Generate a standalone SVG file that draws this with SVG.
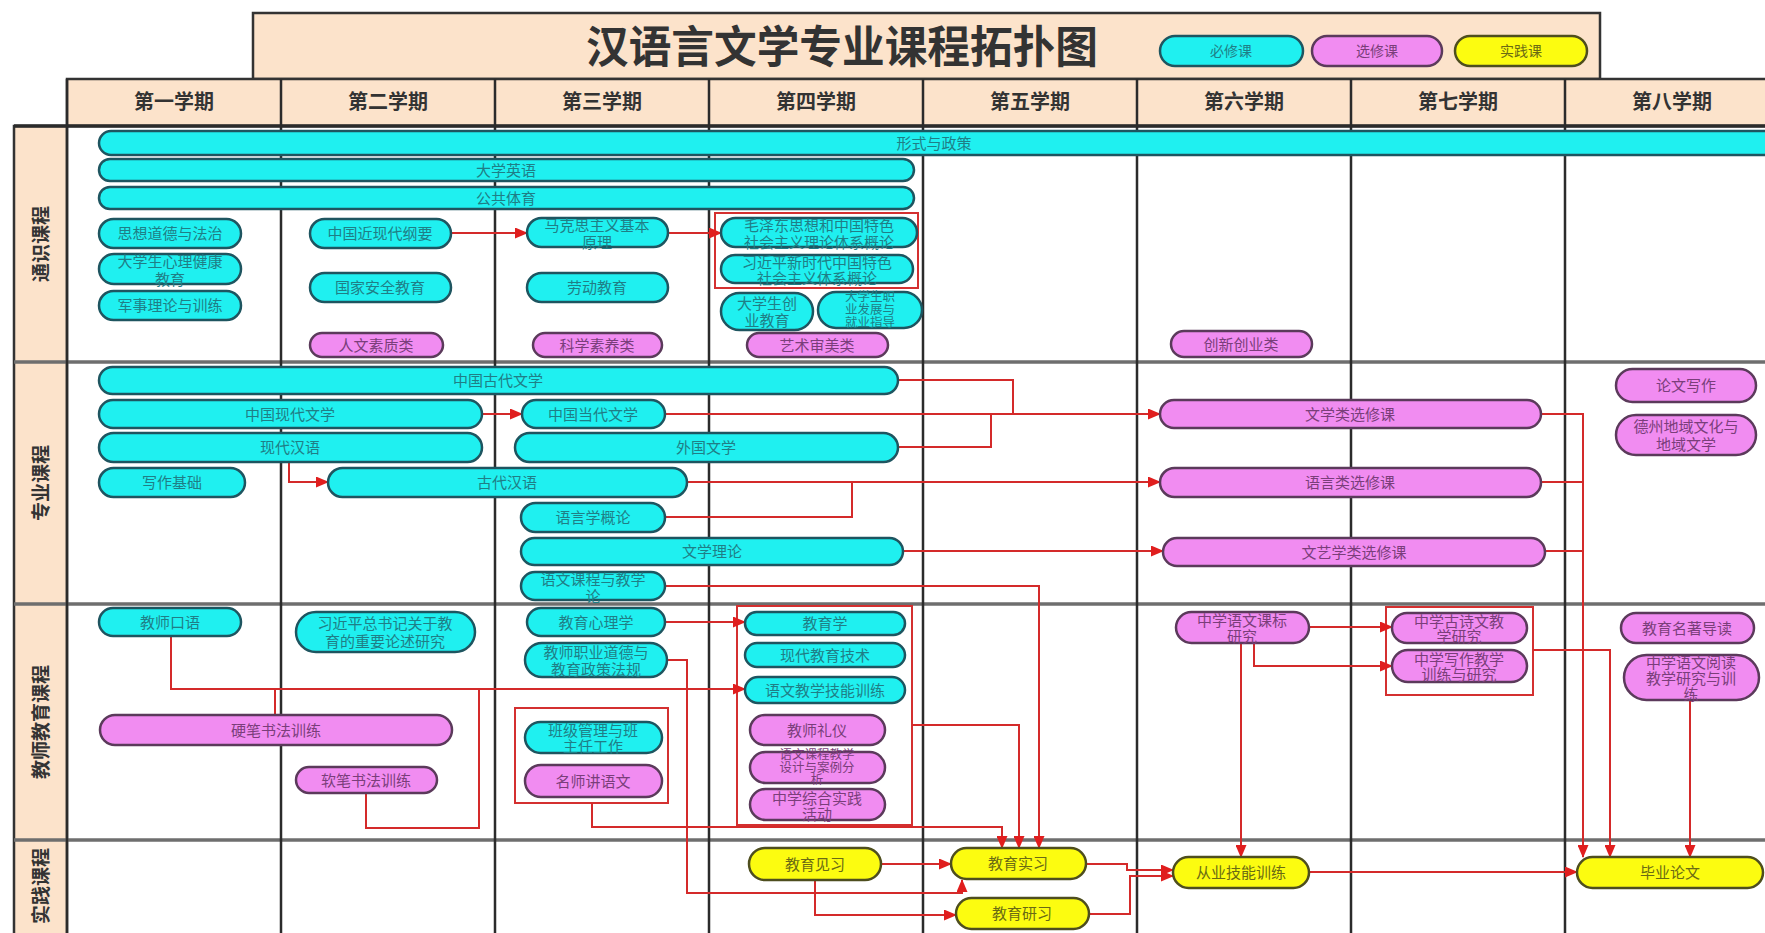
<svg xmlns="http://www.w3.org/2000/svg" width="1765" height="933" viewBox="0 0 1765 933">
<defs>
<marker id="ah" markerWidth="13" markerHeight="11" refX="12" refY="5.5" orient="auto" markerUnits="userSpaceOnUse"><path d="M0,0 L13,5.5 L0,11 Z" fill="#E01E1E"/></marker>
<style>
text{font-family:"Liberation Sans","Noto Sans CJK SC",sans-serif;text-anchor:middle;dominant-baseline:central}
.peach{fill:#FCE3CB;stroke:#333;stroke-width:2.5}
.vl{stroke:#2b2b2b;stroke-width:2.5}
.hl{stroke:#6e6e6e;stroke-width:3.5}
.hd{font-size:20px;font-weight:bold;fill:#333}
.lb{font-size:19px;font-weight:bold;fill:#333}
.cy rect{fill:#1FF0F0;stroke:#1E5560;stroke-width:2.5}
.cy text{fill:#1F7E86;font-size:15px}
.pk rect{fill:#F18CF1;stroke:#5B3A5B;stroke-width:2.5}
.pk text{fill:#7A3E7A;font-size:15px}
.ye rect{fill:#FCFC10;stroke:#4E4E1E;stroke-width:2.5}
.ye text{fill:#6A6A14;font-size:15px}
.cy text.sm,.pk text.sm{font-size:12.5px}
.grp{fill:none;stroke:#D43030;stroke-width:2}
.cn path{fill:none;stroke:#D42A2A;stroke-width:2}
.cn .a{marker-end:url(#ah)}
.lg text{font-size:14px}
</style>
</defs>
<rect width="1765" height="933" fill="#FFFFFF"/>

<!-- title -->
<g id="title">
<rect class="peach" x="253" y="13" width="1347" height="66"/>
<text x="842" y="47" font-size="44" font-weight="bold" fill="#333" textLength="512" lengthAdjust="spacingAndGlyphs">汉语言文学专业课程拓扑图</text>
</g>
<g id="legend" class="lg">
<g class="cy"><rect x="1160" y="36" width="143" height="30" rx="15"/><text x="1231" y="51">必修课</text></g>
<g class="pk"><rect x="1312" y="36" width="130" height="30" rx="15"/><text x="1377" y="51">选修课</text></g>
<g class="ye"><rect x="1455" y="36" width="132" height="30" rx="15"/><text x="1521" y="51">实践课</text></g>
</g>

<!-- grid -->
<g id="grid">
<rect class="peach" x="67" y="79" width="1710" height="47"/>
<rect class="peach" x="14" y="126" width="53" height="820"/>
<line class="hl" x1="14" y1="362" x2="1765" y2="362"/>
<line class="hl" x1="14" y1="604" x2="1765" y2="604"/>
<line class="hl" x1="14" y1="840" x2="1765" y2="840"/>
<line class="vl" x1="67" y1="79" x2="67" y2="933"/>
<line class="vl" x1="281" y1="79" x2="281" y2="933"/>
<line class="vl" x1="495" y1="79" x2="495" y2="933"/>
<line class="vl" x1="709" y1="79" x2="709" y2="933"/>
<line class="vl" x1="923" y1="79" x2="923" y2="933"/>
<line class="vl" x1="1137" y1="79" x2="1137" y2="933"/>
<line class="vl" x1="1351" y1="79" x2="1351" y2="933"/>
<line class="vl" x1="1565" y1="79" x2="1565" y2="933"/>
<line x1="14" y1="126" x2="1765" y2="126" stroke="#2b2b2b" stroke-width="3.5"/>
<text class="hd" x="174" y="102">第一学期</text>
<text class="hd" x="388" y="102">第二学期</text>
<text class="hd" x="602" y="102">第三学期</text>
<text class="hd" x="816" y="102">第四学期</text>
<text class="hd" x="1030" y="102">第五学期</text>
<text class="hd" x="1244" y="102">第六学期</text>
<text class="hd" x="1458" y="102">第七学期</text>
<text class="hd" x="1672" y="102">第八学期</text>
<text class="lb" transform="translate(41,244) rotate(-90)">通识课程</text>
<text class="lb" transform="translate(41,483) rotate(-90)">专业课程</text>
<text class="lb" transform="translate(41,722) rotate(-90)">教师教育课程</text>
<text class="lb" transform="translate(41,886) rotate(-90)">实践课程</text>
</g>

<!-- group boxes -->
<g id="groups">
<rect class="grp" x="715" y="213" width="203" height="75"/>
<rect class="grp" x="515" y="708" width="153" height="95"/>
<rect class="grp" x="737" y="606" width="175" height="219"/>
<rect class="grp" x="1386" y="607" width="147" height="88"/>
</g>

<!-- connectors -->
<g id="connectors" class="cn">
<path class="a" d="M452,233 H527"/>
<path class="a" d="M668,233 H721"/>
<path class="a" d="M482,414 H522"/>
<path class="a" d="M289,462 V482 H328"/>
<path d="M898,380 H1013 V414"/>
<path class="a" d="M665,414 H1160"/>
<path d="M898,447 H991 V414"/>
<path class="a" d="M687,482 H1160"/>
<path d="M665,517 H852 V482"/>
<path class="a" d="M903,551 H1163"/>
<path class="a" d="M665,586 H1039 V848"/>
<path class="a" d="M1541,414 H1583 V857"/>
<path d="M1541,482 H1583"/>
<path d="M1545,551 H1583"/>
<path class="a" d="M171,636 V689 H745"/>
<path d="M275,715 V689"/>
<path d="M366,793 V828 H479 V689"/>
<path class="a" d="M665,622 H745"/>
<path class="a" d="M667,660 H687 V893 H962 V880"/>
<path class="a" d="M592,803 V827 H1002 V848"/>
<path class="a" d="M912,725 H1019 V848"/>
<path class="a" d="M1309,627 H1392"/>
<path class="a" d="M1254,643 V666 H1392"/>
<path class="a" d="M1241,643 V857"/>
<path class="a" d="M1533,650 H1610 V857"/>
<path class="a" d="M1690,700 V857"/>
<path class="a" d="M881,864 H951"/>
<path class="a" d="M815,880 V915 H956"/>
<path class="a" d="M1086,864 H1127 V870 H1173"/>
<path class="a" d="M1089,914 H1130 V876 H1173"/>
<path class="a" d="M1309,872 H1577"/>
</g>

<!-- row 1 -->
<g id="n_xszc" class="cy"><rect x="99" y="131" width="1690" height="24" rx="12"/><text x="934" y="143">形式与政策</text></g>
<g id="n_dxyy" class="cy"><rect x="99" y="159" width="815" height="22" rx="11"/><text x="506" y="170">大学英语</text></g>
<g id="n_ggty" class="cy"><rect x="99" y="187" width="815" height="22" rx="11"/><text x="506" y="198">公共体育</text></g>
<g id="n_sxdd" class="cy"><rect x="99" y="219" width="142" height="29" rx="14.5"/><text x="170" y="233.5">思想道德与法治</text></g>
<g id="n_xljk" class="cy"><rect x="99" y="254" width="142" height="30" rx="15"/><text x="170" y="261">大学生心理健康</text><text x="170" y="279">教育</text></g>
<g id="n_jsll" class="cy"><rect x="99" y="291" width="142" height="29" rx="14.5"/><text x="170" y="305.5">军事理论与训练</text></g>
<g id="n_jxd" class="cy"><rect x="310" y="219" width="141" height="29" rx="14.5"/><text x="380" y="233.5">中国近现代纲要</text></g>
<g id="n_gjaq" class="cy"><rect x="310" y="273" width="141" height="29" rx="14.5"/><text x="380" y="287.5">国家安全教育</text></g>
<g id="n_rwsz" class="pk"><rect x="310" y="333" width="133" height="24" rx="12"/><text x="376" y="345">人文素质类</text></g>
<g id="n_mks" class="cy"><rect x="527" y="218" width="141" height="29" rx="14.5"/><text x="597" y="225">马克思主义基本</text><text x="597" y="242">原理</text></g>
<g id="n_ldjy" class="cy"><rect x="527" y="273" width="141" height="29" rx="14.5"/><text x="597" y="287.5">劳动教育</text></g>
<g id="n_kxsy" class="pk"><rect x="533" y="333" width="129" height="24" rx="12"/><text x="597" y="345">科学素养类</text></g>
<g id="n_mzd" class="cy"><rect x="721" y="218" width="196" height="29" rx="14.5"/><text x="819" y="225">毛泽东思想和中国特色</text><text x="819" y="242">社会主义理论体系概论</text></g>
<g id="n_xjp" class="cy"><rect x="721" y="255" width="192" height="28" rx="14"/><text x="817" y="262">习近平新时代中国特色</text><text x="817" y="278">社会主义体系概论</text></g>
<g id="n_cyjy" class="cy"><rect x="721" y="293" width="92" height="37" rx="18.5"/><text x="767" y="303">大学生创</text><text x="767" y="320">业教育</text></g>
<g id="n_zyfz" class="cy"><rect x="818" y="292" width="104" height="36" rx="18"/><text class="sm" x="870" y="297">大学生职</text><text class="sm" x="870" y="310">业发展与</text><text class="sm" x="870" y="323">就业指导</text></g>
<g id="n_yssm" class="pk"><rect x="747" y="333" width="141" height="24" rx="12"/><text x="817" y="345">艺术审美类</text></g>
<g id="n_cxcy" class="pk"><rect x="1171" y="331" width="141" height="26" rx="13"/><text x="1241" y="344">创新创业类</text></g>

<!-- row 2 -->
<g id="n_gdwx" class="cy"><rect x="99" y="367" width="799" height="27" rx="13.5"/><text x="498" y="380.5">中国古代文学</text></g>
<g id="n_xdwx" class="cy"><rect x="99" y="400" width="383" height="28" rx="14"/><text x="290" y="414">中国现代文学</text></g>
<g id="n_xdhy" class="cy"><rect x="99" y="433" width="383" height="29" rx="14.5"/><text x="290" y="447.5">现代汉语</text></g>
<g id="n_xzjc" class="cy"><rect x="99" y="468" width="146" height="29" rx="14.5"/><text x="172" y="482.5">写作基础</text></g>
<g id="n_gdhy" class="cy"><rect x="328" y="468" width="359" height="29" rx="14.5"/><text x="507" y="482.5">古代汉语</text></g>
<g id="n_ddwx" class="cy"><rect x="522" y="400" width="143" height="28" rx="14"/><text x="593" y="414">中国当代文学</text></g>
<g id="n_wgwx" class="cy"><rect x="515" y="433" width="383" height="29" rx="14.5"/><text x="706" y="447.5">外国文学</text></g>
<g id="n_yyxgl" class="cy"><rect x="521" y="503" width="144" height="29" rx="14.5"/><text x="593" y="517.5">语言学概论</text></g>
<g id="n_wxll" class="cy"><rect x="521" y="538" width="382" height="27" rx="13.5"/><text x="712" y="551.5">文学理论</text></g>
<g id="n_ywkc" class="cy"><rect x="521" y="572" width="144" height="28" rx="14"/><text x="593" y="579">语文课程与教学</text><text x="593" y="596">论</text></g>
<g id="n_wxlxx" class="pk"><rect x="1160" y="400" width="381" height="28" rx="14"/><text x="1350" y="414">文学类选修课</text></g>
<g id="n_yylxx" class="pk"><rect x="1160" y="468" width="381" height="29" rx="14.5"/><text x="1350" y="482.5">语言类选修课</text></g>
<g id="n_wyxxx" class="pk"><rect x="1163" y="538" width="382" height="28" rx="14"/><text x="1354" y="552">文艺学类选修课</text></g>
<g id="n_lwxz" class="pk"><rect x="1616" y="369" width="140" height="33" rx="16.5"/><text x="1686" y="385.5">论文写作</text></g>
<g id="n_dzdy" class="pk"><rect x="1616" y="415" width="140" height="40" rx="20"/><text x="1686" y="426">德州地域文化与</text><text x="1686" y="444">地域文学</text></g>

<!-- row 3 -->
<g id="n_jskj" class="cy"><rect x="99" y="608" width="142" height="28" rx="14"/><text x="170" y="622">教师口语</text></g>
<g id="n_xjpjy" class="cy"><rect x="296" y="612" width="179" height="40" rx="20"/><text x="385" y="623">习近平总书记关于教</text><text x="385" y="641">育的重要论述研究</text></g>
<g id="n_ybsf" class="pk"><rect x="100" y="715" width="352" height="30" rx="15"/><text x="276" y="730">硬笔书法训练</text></g>
<g id="n_rbsf" class="pk"><rect x="296" y="767" width="141" height="26" rx="13"/><text x="366" y="780">软笔书法训练</text></g>
<g id="n_jyxlx" class="cy"><rect x="527" y="608" width="138" height="28" rx="14"/><text x="596" y="622">教育心理学</text></g>
<g id="n_jszy" class="cy"><rect x="525" y="643" width="142" height="34" rx="17"/><text x="596" y="652">教师职业道德与</text><text x="596" y="669">教育政策法规</text></g>
<g id="n_bjgl" class="cy"><rect x="525" y="722" width="137" height="31" rx="15.5"/><text x="593" y="730">班级管理与班</text><text x="593" y="746">主任工作</text></g>
<g id="n_msjyw" class="pk"><rect x="525" y="765" width="137" height="32" rx="16"/><text x="593" y="781">名师讲语文</text></g>
<g id="n_jyx" class="cy"><rect x="745" y="612" width="160" height="23" rx="11.5"/><text x="825" y="623.5">教育学</text></g>
<g id="n_xdjyjs" class="cy"><rect x="745" y="643" width="160" height="24" rx="12"/><text x="825" y="655">现代教育技术</text></g>
<g id="n_ywjxjn" class="cy"><rect x="745" y="677" width="160" height="26" rx="13"/><text x="825" y="690">语文教学技能训练</text></g>
<g id="n_jsly" class="pk"><rect x="750" y="715" width="135" height="30" rx="15"/><text x="817" y="730">教师礼仪</text></g>
<g id="n_ywkcjx" class="pk"><rect x="750" y="752" width="135" height="31" rx="15.5"/><text class="sm" x="817" y="755">语文课程教学</text><text class="sm" x="817" y="767.5">设计与案例分</text><text class="sm" x="817" y="780">析</text></g>
<g id="n_zxzhsj" class="pk"><rect x="750" y="789" width="135" height="31" rx="15.5"/><text x="817" y="798">中学综合实践</text><text x="817" y="814">活动</text></g>
<g id="n_kbyj" class="pk"><rect x="1176" y="612" width="133" height="31" rx="15.5"/><text x="1242" y="620">中学语文课标</text><text x="1242" y="636">研究</text></g>
<g id="n_gsw" class="pk"><rect x="1392" y="613" width="135" height="30" rx="15"/><text x="1459" y="621">中学古诗文教</text><text x="1459" y="636">学研究</text></g>
<g id="n_xzjx" class="pk"><rect x="1392" y="650" width="135" height="32" rx="16"/><text x="1459" y="659">中学写作教学</text><text x="1459" y="674">训练与研究</text></g>
<g id="n_mzdd" class="pk"><rect x="1621" y="613" width="133" height="30" rx="15"/><text x="1687" y="628">教育名著导读</text></g>
<g id="n_ydjx" class="pk"><rect x="1624" y="655" width="135" height="45" rx="22.5"/><text x="1691" y="662">中学语文阅读</text><text x="1691" y="678">教学研究与训</text><text x="1691" y="694">练</text></g>

<!-- row 4 -->
<g id="n_jyjx" class="ye"><rect x="749" y="848" width="132" height="32" rx="16"/><text x="815" y="864">教育见习</text></g>
<g id="n_jysx" class="ye"><rect x="951" y="848" width="135" height="31" rx="15.5"/><text x="1018" y="863.5">教育实习</text></g>
<g id="n_jyyx" class="ye"><rect x="956" y="898" width="133" height="31" rx="15.5"/><text x="1022" y="913.5">教育研习</text></g>
<g id="n_cyjn" class="ye"><rect x="1173" y="857" width="136" height="31" rx="15.5"/><text x="1241" y="872.5">从业技能训练</text></g>
<g id="n_bylw" class="ye"><rect x="1577" y="857" width="186" height="31" rx="15.5"/><text x="1670" y="872.5">毕业论文</text></g>
</svg>
